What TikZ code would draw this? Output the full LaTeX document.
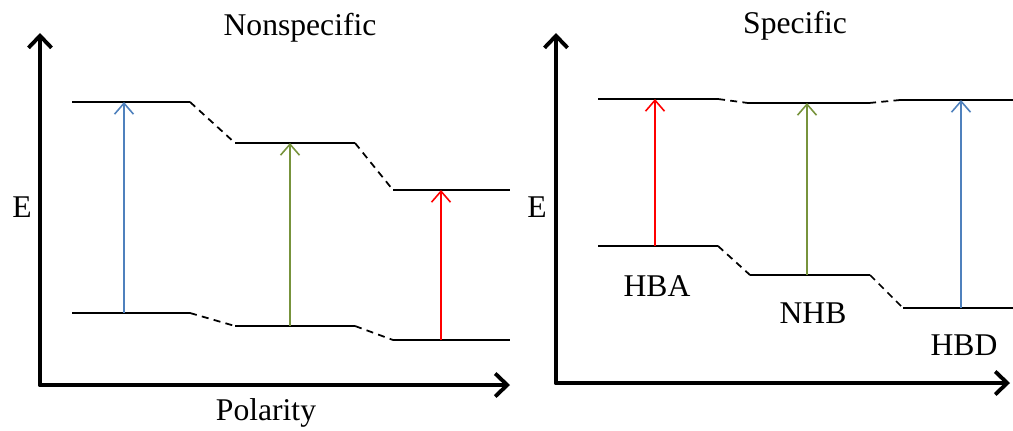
\documentclass[tikz,border=0pt]{standalone}
\usepackage{fontspec}
\setmainfont{Liberation Serif}
\usetikzlibrary{arrows.meta}

\definecolor{tblue}{RGB}{79,129,189}
\definecolor{tgreen}{RGB}{119,147,60}

\begin{document}
\begin{tikzpicture}[x=0.02cm, y=-0.02cm,
    axis/.style={line width=2.2pt, line cap=round, -{Straight Barb[length=2.4mm, width=4.6mm, line width=2.2pt]}},
    level/.style={line width=1.2pt},
    link/.style={line width=1pt, dash pattern=on 4pt off 3pt},
    trans/.style={line width=0.9pt, -{Straight Barb[length=2.2mm, width=3.8mm]}},
    lbl/.style={font=\fontsize{18}{20}\selectfont}]
  \useasboundingbox (0,0) rectangle (1013,430);

  % nonspecific panel
  \coordinate (nsO) at (40,385);
  \coordinate (nsY) at (40,33);
  \coordinate (nsX) at (510,385);
  \draw[axis] (nsO) -- (nsY);
  \draw[axis] (nsO) -- (nsX);
  \node[lbl] (nsTitle) at (300,28) {Nonspecific};
  \node[lbl] (nsE) at (22,207) {E};
  \node[lbl] (nsPol) at (266,413) {Polarity};

  \coordinate (nsU1a) at (72,102);  \coordinate (nsU1b) at (190,102);
  \coordinate (nsU2a) at (235,143); \coordinate (nsU2b) at (355,143);
  \coordinate (nsU3a) at (393,190); \coordinate (nsU3b) at (510,190);
  \coordinate (nsL1a) at (72,313);  \coordinate (nsL1b) at (190,313);
  \coordinate (nsL2a) at (235,326); \coordinate (nsL2b) at (355,326);
  \coordinate (nsL3a) at (393,340); \coordinate (nsL3b) at (510,340);
  \draw[level] (nsU1a) -- (nsU1b);
  \draw[level] (nsU2a) -- (nsU2b);
  \draw[level] (nsU3a) -- (nsU3b);
  \draw[level] (nsL1a) -- (nsL1b);
  \draw[level] (nsL2a) -- (nsL2b);
  \draw[level] (nsL3a) -- (nsL3b);
  \draw[link] (nsU1b) -- (nsU2a);
  \draw[link] (nsU2b) -- (nsU3a);
  \draw[link] (nsL1b) -- (nsL2a);
  \draw[link] (nsL2b) -- (nsL3a);

  \coordinate (nsB0) at (124,313); \coordinate (nsB1) at (124,102);
  \coordinate (nsG0) at (290,326); \coordinate (nsG1) at (290,143);
  \coordinate (nsR0) at (441,340); \coordinate (nsR1) at (441,190);
  \draw[trans, tblue]  (nsB0) -- (nsB1);
  \draw[trans, tgreen] (nsG0) -- (nsG1);
  \draw[trans, red]    (nsR0) -- (nsR1);

  % specific panel
  \coordinate (spO) at (556,383);
  \coordinate (spY) at (556,33);
  \coordinate (spX) at (1010,383);
  \draw[axis] (spO) -- (spY);
  \draw[axis] (spO) -- (spX);
  \node[lbl] (spTitle) at (795,26) {Specific};
  \node[lbl] (spE) at (537,207) {E};

  \coordinate (spU1a) at (598,99);  \coordinate (spU1b) at (718,99);
  \coordinate (spU2a) at (748,103); \coordinate (spU2b) at (869,103);
  \coordinate (spU3a) at (900,100); \coordinate (spU3b) at (1013,100);
  \coordinate (spL1a) at (598,246); \coordinate (spL1b) at (718,246);
  \coordinate (spL2a) at (750,275); \coordinate (spL2b) at (870,275);
  \coordinate (spL3a) at (903,308); \coordinate (spL3b) at (1013,308);
  \draw[level] (spU1a) -- (spU1b);
  \draw[level] (spU2a) -- (spU2b);
  \draw[level] (spU3a) -- (spU3b);
  \draw[level] (spL1a) -- (spL1b);
  \draw[level] (spL2a) -- (spL2b);
  \draw[level] (spL3a) -- (spL3b);
  \draw[link] (spU1b) -- (spU2a);
  \draw[link] (spU2b) -- (spU3a);
  \draw[link] (spL1b) -- (spL2a);
  \draw[link] (spL2b) -- (spL3a);

  \coordinate (spR0) at (655,246); \coordinate (spR1) at (655,99);
  \coordinate (spG0) at (807,275); \coordinate (spG1) at (807,103);
  \coordinate (spB0) at (961,308); \coordinate (spB1) at (961,100);
  \draw[trans, red]    (spR0) -- (spR1);
  \draw[trans, tgreen] (spG0) -- (spG1);
  \draw[trans, tblue]  (spB0) -- (spB1);

  \node[lbl] (spHBA) at (657,286) {HBA};
  \node[lbl] (spNHB) at (813,313) {NHB};
  \node[lbl] (spHBD) at (964,345) {HBD};
\end{tikzpicture}
\end{document}
